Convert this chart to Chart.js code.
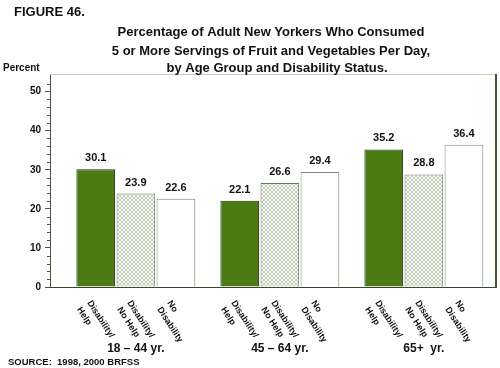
<!DOCTYPE html>
<html>
<head>
<meta charset="utf-8">
<script src="https://cdn.jsdelivr.net/npm/chart.js@4.4.1/dist/chart.umd.min.js"></script>
<style>
  body { margin: 0; background: #fff; }
  #chart { display: block; }
</style>
</head>
<body>
<canvas id="chart" width="500" height="368"></canvas>
<script>
// data
const ageGroups = ['18 – 44 yr.', '45 – 64 yr.', '65+  yr.'];
const barLabels = [['Disability/', 'Help'], ['Disability/', 'No Help'], ['No', 'Disability']];
const disabilityHelp = [30.1, 22.1, 35.2];
const disabilityNoHelp = [23.9, 26.6, 28.8];
const noDisability = [22.6, 29.4, 36.4];
const yTicks = [0, 10, 20, 30, 40, 50];

const titleLines = [
    'Percentage of Adult New Yorkers Who Consumed',
    '5 or More Servings of Fruit and Vegetables Per Day,',
    'by Age Group and Disability Status.'
];

const FONT = "'Liberation Sans', Arial, Helvetica, sans-serif";

// small crosshatch tile for the "no help" bars
function makeHatch() {
    var tile = document.createElement('canvas');
    tile.width = 4;
    tile.height = 4;
    var g = tile.getContext('2d');
    g.fillStyle = '#f7f9f4';
    g.fillRect(0, 0, 4, 4);
    g.strokeStyle = '#c2ccb6';
    g.lineWidth = 1;
    g.beginPath();
    g.moveTo(0, 0); g.lineTo(4, 4);
    g.moveTo(4, 0); g.lineTo(0, 4);
    g.stroke();
    return g.createPattern(tile, 'repeat');
}

function toPoints(values) {
    return values.map((v, i) => ({ x: i, y: v }));
}

const decor = {
    id: 'decor',
    afterDraw(chart) {
        const ctx = chart.ctx;
        const area = chart.chartArea;
        const xs = chart.scales.x;
        const ys = chart.scales.y;
        ctx.save();

        // frame round the plot
        ctx.lineWidth = 1;
        ctx.strokeStyle = '#c7cfba';
        ctx.beginPath();
        ctx.moveTo(area.left, area.top + 0.5);
        ctx.lineTo(area.right, area.top + 0.5);
        ctx.stroke();
        ctx.lineWidth = 2;
        ctx.strokeStyle = '#3d5a28';
        ctx.beginPath();
        ctx.moveTo(area.right - 1, area.top);
        ctx.lineTo(area.right - 1, area.bottom);
        ctx.stroke();
        ctx.lineWidth = 1;
        ctx.strokeStyle = '#3a4530';
        ctx.beginPath();
        ctx.moveTo(area.left, area.bottom + 0.5);
        ctx.lineTo(area.right, area.bottom + 0.5);
        ctx.stroke();

        // minor ticks every 2
        ctx.strokeStyle = '#4a5540';
        ctx.beginPath();
        for (let v = 2; v < 54; v += 2) {
            if (v % 10 === 0) continue;
            const y = Math.round(ys.getPixelForValue(v)) + 0.5;
            ctx.moveTo(area.left - 3, y);
            ctx.lineTo(area.left, y);
        }
        ctx.stroke();

        ctx.fillStyle = '#111';

        // value labels above bars + rotated bar names below the axis
        chart.data.datasets.forEach((ds, di) => {
            const meta = chart.getDatasetMeta(di);
            meta.data.forEach((bar, i) => {
                ctx.font = 'bold 11px ' + FONT;
                ctx.textAlign = 'center';
                ctx.textBaseline = 'middle';
                ctx.fillText(ds.data[i].y.toFixed(1), bar.x, bar.y - 11);

                ctx.save();
                ctx.translate(bar.x - 3, area.bottom + 12);
                ctx.rotate(57 * Math.PI / 180);
                ctx.font = 'bold 9px ' + FONT;
                ctx.textAlign = 'left';
                ctx.textBaseline = 'top';
                barLabels[di].forEach((line, li) => {
                    ctx.fillText(line, 0, li * 12);
                });
                ctx.restore();
            });
        });

        // age group names
        ctx.font = 'bold 12px ' + FONT;
        ctx.textAlign = 'center';
        ctx.textBaseline = 'middle';
        ageGroups.forEach((g, i) => {
            ctx.fillText(g, xs.getPixelForValue(i), 349);
        });

        // titles and notes
        ctx.font = 'bold 13px ' + FONT;
        ctx.textAlign = 'left';
        ctx.fillText('FIGURE 46.', 14, 12);
        ctx.textAlign = 'center';
        ctx.fillText(titleLines[0], 271, 32);
        ctx.fillText(titleLines[1], 271, 51);
        ctx.fillText(titleLines[2], 277, 68);
        ctx.font = 'bold 10px ' + FONT;
        ctx.textAlign = 'left';
        ctx.fillText('Percent', 3, 68);
        ctx.font = 'bold 9.5px ' + FONT;
        ctx.fillText('SOURCE:  1998, 2000 BRFSS', 8, 362);

        ctx.restore();
    }
};

var hatch = makeHatch();

var chart = new Chart(document.getElementById('chart').getContext('2d'), {
    type: 'bar',
    data: {
        datasets: [
            {
                label: 'Disability/Help',
                data: toPoints(disabilityHelp),
                backgroundColor: '#4b7b12',
                borderColor: '#26301c',
                borderWidth: 1
            },
            {
                label: 'Disability/No Help',
                data: toPoints(disabilityNoHelp),
                backgroundColor: hatch,
                borderColor: '#6f7d62',
                borderWidth: 1
            },
            {
                label: 'No Disability',
                data: toPoints(noDisability),
                backgroundColor: '#ffffff',
                borderColor: '#7f8c72',
                borderWidth: 1
            }
        ]
    },
    options: {
        responsive: false,
        animation: false,
        layout: { padding: { left: 0, top: 74, right: 3, bottom: 81 } },
        categoryPercentage: 0.835,
        barPercentage: 0.965,
        plugins: {
            legend: { display: false },
            tooltip: { enabled: false }
        },
        scales: {
            x: {
                type: 'linear',
                display: false,
                offset: false,
                min: -0.596,
                max: 2.508,
                afterBuildTicks: function (scale) {
                    scale.ticks = ageGroups.map((g, i) => ({ value: i }));
                }
            },
            y: {
                min: 0,
                max: 54.5,
                afterFit: function (scale) { scale.width = 50; },
                afterBuildTicks: function (scale) {
                    scale.ticks = yTicks.map(v => ({ value: v }));
                },
                ticks: {
                    padding: 4,
                    color: '#111',
                    font: { family: FONT, size: 10, weight: 'bold' }
                },
                grid: {
                    drawOnChartArea: false,
                    tickLength: 5,
                    tickColor: '#4a5540'
                },
                border: { color: '#4a5540', width: 1 }
            }
        }
    },
    plugins: [decor]
});
</script>
</body>
</html>
